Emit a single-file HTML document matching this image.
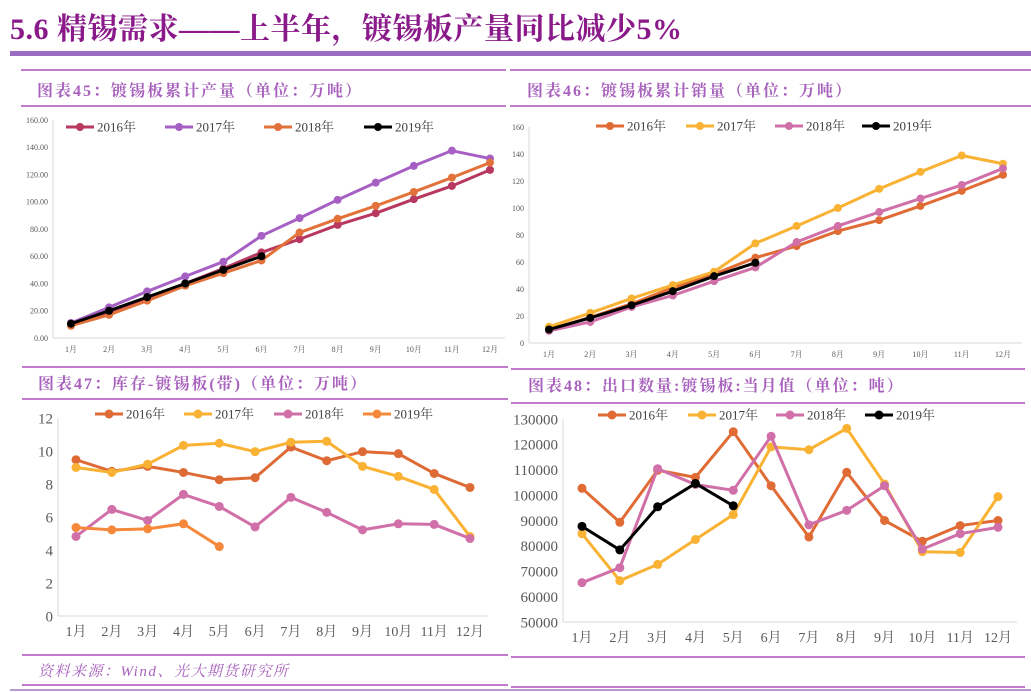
<!DOCTYPE html>
<html><head><meta charset="utf-8">
<style>
body{margin:0;width:1031px;height:692px;background:#fff;overflow:hidden;position:relative;font-family:"Liberation Serif","Noto Serif CJK SC",serif}
.t{position:absolute;white-space:nowrap}
.ln{position:absolute;background:#c07ccb}
.sub{position:absolute;font-family:"Liberation Serif","Noto Serif CJK SC",serif;font-weight:bold;color:#a862bd;font-size:16px;letter-spacing:2px;white-space:nowrap}
svg{position:absolute;left:0;top:0}
</style></head><body>
<div class="t" style="left:10px;top:4px;font-size:30px;letter-spacing:0.5px;font-weight:bold;color:#8a1a8a;font-family:'Liberation Serif','Noto Serif CJK SC',serif">5.6 精锡需求——上半年，镀锡板产量同比减少5%</div>
<div class="ln" style="left:10px;top:51px;width:1021px;height:5px;background:#9b6cc2"></div>

<div class="ln" style="left:21px;top:69px;width:485px;height:2px"></div>
<div class="ln" style="left:21px;top:105px;width:485px;height:2px"></div>
<div class="ln" style="left:510px;top:69px;width:521px;height:2px"></div>
<div class="ln" style="left:510px;top:105px;width:521px;height:2px"></div>
<div class="sub" style="left:37px;top:78px">图表45：镀锡板累计产量（单位：万吨）</div>
<div class="sub" style="left:527px;top:78px">图表46：镀锡板累计销量（单位：万吨）</div>

<div class="ln" style="left:22px;top:366px;width:486px;height:2px"></div>
<div class="ln" style="left:22px;top:398px;width:486px;height:2px"></div>
<div class="ln" style="left:511px;top:368px;width:514px;height:2px"></div>
<div class="ln" style="left:511px;top:402px;width:514px;height:2px"></div>
<div class="sub" style="left:38px;top:371px">图表47：库存-镀锡板(带)（单位：万吨）</div>
<div class="sub" style="left:528px;top:373px">图表48：出口数量:镀锡板:当月值（单位：吨）</div>

<div class="ln" style="left:22px;top:654px;width:486px;height:2px"></div>
<div class="ln" style="left:511px;top:656px;width:514px;height:2px"></div>
<div class="t" style="left:38px;top:660px;font-size:15px;letter-spacing:1.5px;font-style:italic;color:#a862bd;font-family:'Liberation Serif','Noto Serif CJK SC',serif">资料来源：Wind、光大期货研究所</div>
<div class="ln" style="left:22px;top:684px;width:486px;height:2px"></div>
<div class="ln" style="left:511px;top:686px;width:514px;height:2px"></div>
<div class="ln" style="left:10px;top:689px;width:1021px;height:2px;background:#b79acb"></div>

<svg id="svg" width="1031" height="692" xmlns="http://www.w3.org/2000/svg"></svg>
<script>
const months = ["1月","2月","3月","4月","5月","6月","7月","8月","9月","10月","11月","12月"];
const years = ["2016年","2017年","2018年","2019年"];
// Chart 45
const c45_2016 = [10,19,29,40,51,62.8,72.5,83,91.6,101.9,111.6,123.4];
const c45_2017 = [11,22.5,34.2,45.2,56,75,88,101.4,114,126.3,137.5,131.7];
const c45_2018 = [9,17,27.4,38.4,47.6,56.9,77.4,87.5,97,107.2,117.7,128.7];
const c45_2019 = [10.5,20,30,40,50,60];
const c45_ticks = ["0.00","20.00","40.00","60.00","80.00","100.00","120.00","140.00","160.00"];
// Chart 46
const c46_2016 = [10,19,29,41,51,63.2,71.8,82.9,91,101.5,112.7,124.6];
const c46_2017 = [12,22.3,33,42.9,52.8,73.8,86.7,100,114.2,126.8,138.9,132.8];
const c46_2018 = [9,15.6,26.7,35.2,45.8,56,74.8,86.7,97,107,117,129.3];
const c46_2019 = [10,18.6,28,38.4,49.5,59.4];
const c46_ticks = ["0","20","40","60","80","100","120","140","160"];
// Chart 47
const c47_2016 = [9.47,8.77,9.07,8.7,8.26,8.38,10.24,9.41,9.96,9.84,8.64,7.79];
const c47_2017 = [9.0,8.7,9.2,10.34,10.47,9.96,10.53,10.59,9.07,8.46,7.67,4.82];
const c47_2018 = [4.82,6.46,5.79,7.37,6.64,5.4,7.19,6.28,5.22,5.59,5.55,4.7];
const c47_2019 = [5.36,5.22,5.28,5.59,4.21];
const c47_ticks = ["0","2","4","6","8","10","12"];
// Chart 48
const c48_2016 = [102700,89300,109800,107000,125000,103700,83500,109000,90000,81800,88000,90000];
const c48_2017 = [84800,66300,72700,82500,92300,119000,117900,126300,104400,77700,77400,99400];
const c48_2018 = [65500,71400,110400,104200,101900,123200,88300,94000,103700,78700,84800,87300];
const c48_2019 = [87700,78400,95400,104600,95800];
const c48_ticks = ["50000","60000","70000","80000","90000","100000","110000","120000","130000"];

const svg = document.getElementById('svg');
const NS = 'http://www.w3.org/2000/svg';
function mk(tag, attrs){const e=document.createElementNS(NS,tag);for(const k in attrs)e.setAttribute(k,attrs[k]);svg.appendChild(e);return e;}

function chart(cfg){
  const {id,axX,x1,x12,yBot,yTop,vmin,vmax,ticks,series,colors,tickFs,monFs,legX,legY,legFs,axRight,lw,mr} = cfg;
  const sx = i => x1 + (x12-x1)/11*i;
  const sy = v => yBot - (v-vmin)/(vmax-vmin)*(yBot-yTop);
  const ax = mk('line',{x1:axX,y1:yTop,x2:axX,y2:yBot,stroke:'#d9d9d9','stroke-width':1});
  
  
  const bx = mk('line',{x1:axX,y1:yBot,x2:axRight,y2:yBot,stroke:'#d9d9d9','stroke-width':1});
  
  
  ticks.forEach((t,i)=>{
    const v = vmin + (vmax-vmin)*i/(ticks.length-1);
    const e = mk('text',{x:axX-5,y:sy(v)+tickFs*0.35,'text-anchor':'end','font-size':tickFs,fill:'#595959','font-family':'Liberation Serif,serif'});
    e.textContent = t;
    
    
  });
  months.forEach((m,i)=>{
    const e = mk('text',{x:sx(i),y:yBot+monFs+6,'text-anchor':'middle','font-size':monFs,fill:'#595959','font-family':'Liberation Serif,Noto Serif CJK SC,serif'});
    e.textContent = m;
    
    
  });
  series.forEach((s,k)=>{
    const pts = s.map((v,i)=>sx(i)+','+sy(v)).join(' ');
    const pl = mk('polyline',{points:pts,fill:'none',stroke:colors[k],'stroke-width':lw,'stroke-linejoin':'round'});
    
    
    s.forEach((v,i)=>{
      const c = mk('circle',{cx:sx(i),cy:sy(v),r:mr,fill:colors[k]});
      
      
    });
  });
  years.forEach((y,k)=>{
    const x = legX[k];
    const l = mk('line',{x1:x,y1:legY,x2:x+28,y2:legY,stroke:colors[k],'stroke-width':lw});
    
    
    const c = mk('circle',{cx:x+14,cy:legY,r:mr,fill:colors[k]});
    
    
    const t = mk('text',{x:x+31,y:legY+legFs*0.36,'font-size':legFs,fill:'#404040','font-family':'Liberation Serif,Noto Serif CJK SC,serif'});
    t.textContent = y;
    
    
  });
}

chart({id:'chart45',axX:53,x1:71,x12:490,yBot:338,yTop:120,vmin:0,vmax:160,ticks:c45_ticks,
  series:[c45_2016,c45_2017,c45_2018,c45_2019],colors:['#b8385f','#a660c4','#e2713a','#000'],
  tickFs:8,monFs:8,legX:[66,165,264,364],legY:127,legFs:13,axRight:505,lw:3,mr:4});
chart({id:'chart46',axX:529,x1:549,x12:1003,yBot:343,yTop:127,vmin:0,vmax:160,ticks:c46_ticks,
  series:[c46_2016,c46_2017,c46_2018,c46_2019],colors:['#e06b35','#f9b233','#d06fa8','#000'],
  tickFs:8,monFs:8,legX:[596,686,775,862],legY:126,legFs:13,axRight:1022,lw:3,mr:4});
chart({id:'chart47',axX:58,x1:76,x12:470,yBot:616,yTop:418,vmin:0,vmax:12,ticks:c47_ticks,
  series:[c47_2016,c47_2017,c47_2018,c47_2019],colors:['#de6b35','#f9b233','#d06fa8','#f5883a'],
  tickFs:15,monFs:14,legX:[95,184,274,363],legY:414,legFs:13,axRight:488,lw:3,mr:4.5});
chart({id:'chart48',axX:563,x1:582,x12:998,yBot:622,yTop:419,vmin:50000,vmax:130000,ticks:c48_ticks,
  series:[c48_2016,c48_2017,c48_2018,c48_2019],colors:['#e06b35','#f9b233','#d06fa8','#000'],
  tickFs:15,monFs:14,legX:[598,688,776,865],legY:415,legFs:13,axRight:1017,lw:3,mr:4.5});
</script>
</body></html>
